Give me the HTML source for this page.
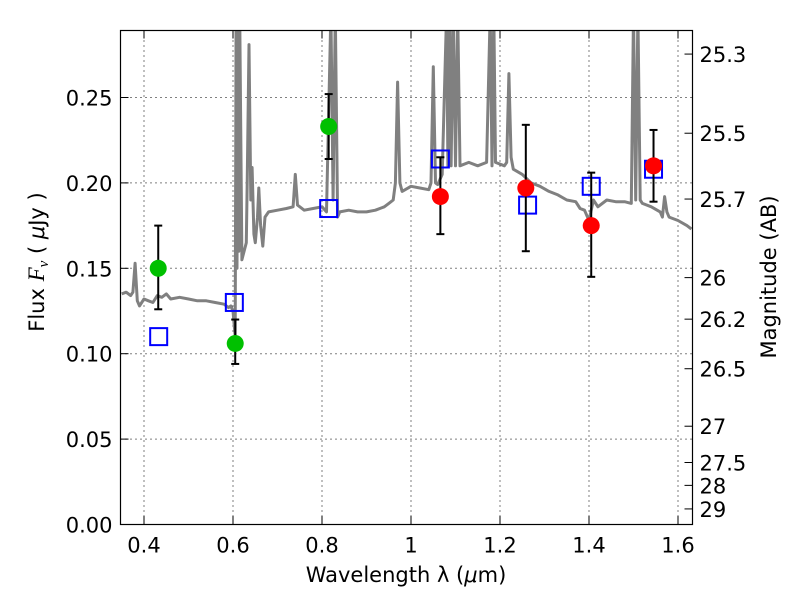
<!DOCTYPE html>
<html><head><meta charset="utf-8"><style>
body{margin:0;background:#fff}
svg text{font-family:"DejaVu Sans","Liberation Sans",sans-serif;font-size:21px;fill:#000}
</style></head><body>
<svg id="chart" width="800" height="600" viewBox="0 0 800 600" xmlns="http://www.w3.org/2000/svg">
<g id="grid"></g>
<g id="spec"></g>
<g id="marks"></g>
<rect x="120.5" y="30.5" width="572" height="494" fill="none" stroke="#000" stroke-width="1.2"/>
<g id="axes"></g>
<text x="406" y="582" text-anchor="middle">Wavelength  λ (<tspan font-style="italic">μ</tspan>m)</text>
<text transform="translate(44,262) rotate(-90)" text-anchor="middle">Flux  <tspan font-family="Liberation Serif" font-style="italic" font-size="23">F<tspan font-size="15" dy="4">ν</tspan></tspan><tspan dy="-4">  ( </tspan><tspan font-style="italic">μ</tspan>Jy )</text>
<text transform="translate(776,277) rotate(-90)" text-anchor="middle">Magnitude (AB)</text>
</svg>
<script>
const xTicks=[0.4,0.6,0.8,1.0,1.2,1.4,1.6];
const xTickLabels=["0.4","0.6","0.8","1","1.2","1.4","1.6"];
const yTicks=[0,0.05,0.10,0.15,0.20,0.25];
const yTickLabels=["0.00","0.05","0.10","0.15","0.20","0.25"];
const magTicks=[25.3,25.5,25.7,26,26.2,26.5,27,27.5,28,29];
const specWave=[0.35,0.36,0.37,0.375,0.38,0.385,0.39,0.40,0.41,0.42,0.43,0.44,0.45,0.46,0.48,0.50,0.52,0.54,0.56,0.58,0.59,0.595,0.60,0.605,0.607,0.609,0.611,0.613,0.615,0.62,0.625,0.63,0.632,0.636,0.64,0.643,0.647,0.65,0.655,0.658,0.662,0.667,0.672,0.68,0.70,0.72,0.735,0.74,0.745,0.76,0.78,0.80,0.81,0.82,0.825,0.83,0.835,0.84,0.86,0.88,0.90,0.92,0.94,0.95,0.96,0.965,0.97,0.975,0.98,1.00,1.02,1.04,1.045,1.05,1.055,1.06,1.07,1.08,1.083,1.087,1.09,1.095,1.10,1.105,1.11,1.13,1.15,1.17,1.178,1.182,1.186,1.19,1.21,1.215,1.22,1.225,1.23,1.25,1.27,1.29,1.31,1.33,1.35,1.37,1.38,1.39,1.40,1.41,1.42,1.44,1.46,1.48,1.495,1.50,1.505,1.51,1.515,1.52,1.54,1.56,1.565,1.57,1.575,1.58,1.60,1.62,1.63];
const specFlux=[0.135,0.136,0.134,0.136,0.153,0.131,0.128,0.132,0.131,0.130,0.134,0.133,0.135,0.132,0.133,0.132,0.131,0.131,0.130,0.129,0.127,0.128,0.125,0.110,0.30,0.15,0.30,0.16,0.30,0.155,0.160,0.165,0.20,0.281,0.19,0.209,0.17,0.165,0.180,0.197,0.175,0.163,0.180,0.183,0.184,0.185,0.186,0.205,0.187,0.184,0.185,0.186,0.183,0.30,0.19,0.30,0.18,0.183,0.184,0.183,0.183,0.184,0.186,0.188,0.19,0.20,0.259,0.20,0.195,0.198,0.197,0.196,0.20,0.268,0.20,0.199,0.205,0.30,0.21,0.30,0.21,0.30,0.21,0.30,0.21,0.212,0.210,0.212,0.30,0.21,0.30,0.212,0.210,0.212,0.264,0.215,0.208,0.205,0.200,0.198,0.195,0.193,0.190,0.189,0.185,0.184,0.178,0.190,0.186,0.190,0.189,0.189,0.188,0.30,0.19,0.30,0.19,0.188,0.186,0.183,0.180,0.192,0.183,0.180,0.178,0.175,0.173];
const greenWave=[0.432,0.605,0.815];
const greenFlux=[0.150,0.106,0.233];
const greenLo=[0.126,0.094,0.214];
const greenHi=[0.175,0.120,0.252];
const redWave=[1.066,1.258,1.405,1.545];
const redFlux=[0.192,0.197,0.175,0.210];
const redLo=[0.170,0.160,0.145,0.189];
const redHi=[0.215,0.234,0.206,0.231];
const blueWave=[0.433,0.603,0.815,1.066,1.262,1.405,1.545];
const blueFlux=[0.110,0.130,0.185,0.214,0.187,0.198,0.208];

const L=120.5,R=692.5,T=30.5,B=524.5;
const X=v=>144+(v-0.4)*445;
const Y=v=>B-v*1708;
const NS="http://www.w3.org/2000/svg";
function mk(tag,attrs,parent){const e=document.createElementNS(NS,tag);for(const k in attrs)e.setAttribute(k,attrs[k]);parent.appendChild(e);return e;}
const grid=document.getElementById('grid'),axes=document.getElementById('axes'),spec=document.getElementById('spec'),marks=document.getElementById('marks');
xTicks.forEach((t,i)=>{const x=X(t);
 const g=mk('line',{x1:x,x2:x,y1:T,y2:B,stroke:'#000','stroke-dasharray':'1,4','stroke-width':1},grid);
 
 const a=mk('line',{x1:x,x2:x,y1:B,y2:B-8,stroke:'#000'},axes);
 const b=mk('line',{x1:x,x2:x,y1:T,y2:T+8,stroke:'#000'},axes);
 const tx=mk('text',{x:x,y:B+28,'text-anchor':'middle'},axes);tx.textContent=xTickLabels[i];
 });
yTicks.forEach((t,i)=>{const y=Y(t);
 const g=mk('line',{x1:L,x2:R,y1:y,y2:y,stroke:'#000','stroke-dasharray':'1,4','stroke-width':1},grid);
 
 const a=mk('line',{x1:L,x2:L+8,y1:y,y2:y,stroke:'#000'},axes);
 const tx=mk('text',{x:L-8,y:y+8,'text-anchor':'end'},axes);tx.textContent=yTickLabels[i];
 });
magTicks.forEach(m=>{const f=Math.pow(10,(23.9-m)/2.5);const y=Y(f);
 const a=mk('line',{x1:R,x2:R-8,y1:y,y2:y,stroke:'#000'},axes);
 const tx=mk('text',{x:R+7,y:y+8,'text-anchor':'start'},axes);tx.textContent=String(m);
 });
const cp=mk('clipPath',{id:'clip'},spec);mk('rect',{x:L,y:T,width:R-L,height:B-T},cp);
const pts=specWave.map((w,i)=>X(w).toFixed(1)+','+Y(specFlux[i]).toFixed(1)).join(' ');
const pl=mk('polyline',{points:pts,fill:'none',stroke:'#808080','stroke-width':3,'clip-path':'url(#clip)','stroke-linejoin':'round'},spec);

function errbar(w,lo,hi){const x=X(w);
 const e=mk('g',{stroke:'#000','stroke-width':2},marks);
 
 mk('line',{x1:x,x2:x,y1:Y(lo),y2:Y(hi)},e);mk('line',{x1:x-4,x2:x+4,y1:Y(lo),y2:Y(lo)},e);mk('line',{x1:x-4,x2:x+4,y1:Y(hi),y2:Y(hi)},e);}
blueWave.forEach((w,i)=>{const r=mk('rect',{x:X(w)-8.5,y:Y(blueFlux[i])-8.5,width:17,height:17,fill:'none',stroke:'#0000ff','stroke-width':2},marks);
 });
greenWave.forEach((w,i)=>{errbar(w,greenLo[i],greenHi[i]);
 const c=mk('circle',{cx:X(w),cy:Y(greenFlux[i]),r:8.5,fill:'#00c000'},marks);
 });
redWave.forEach((w,i)=>{errbar(w,redLo[i],redHi[i]);
 const c=mk('circle',{cx:X(w),cy:Y(redFlux[i]),r:8.5,fill:'#ff0000'},marks);
 });
</script>
</body></html>
